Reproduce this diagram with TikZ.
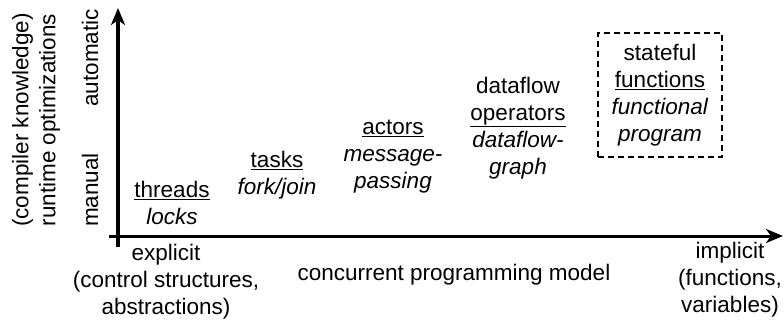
\documentclass[tikz,border=0pt]{standalone}
\usepackage{fontspec}
\setmainfont{Liberation Sans}
\usetikzlibrary{arrows, arrows.meta, shapes}

\begin{document}
\begin{tikzpicture}[x=1pt, y=1pt, font=\fontsize{22.5}{27}\selectfont,
  every node/.style={align=center, inner sep=0pt},
  axis/.style={line width=3pt, -{Stealth[length=17pt, width=14pt, inset=5pt]}},
  model/.style={align=center}]
\useasboundingbox (-118,-86) rectangle (666,236);
% axes
\coordinate (xstart) at (-9,0);
\coordinate (xend)   at (665,0);
\coordinate (ystart) at (0,-11);
\coordinate (yend)   at (0,228);
\draw[axis] (xstart) -- (xend);
\draw[axis] (ystart) -- (yend);
% axis labels
\node (explicit) at (48,-46) {explicit\\(control structures,\\abstractions)};
\node (implicit) at (612,-44) {implicit\\(functions,\\variables)};
\node (xlabel)   at (336,-39) {concurrent programming model};
\node[rotate=90] (manual)    at (-28,46)  {manual};
\node[rotate=90] (automatic) at (-28,178) {automatic};
\node[rotate=90] (ylabel)    at (-82,116) {(compiler knowledge)\\runtime optimizations};
% models
\node[model] (threads)  at (54,33)  {\underline{threads}\\\textit{locks}};
\node[model] (tasks)    at (159,61) {\underline{tasks}\\\textit{fork/join}};
\node[model] (actors)   at (275,79) {\underline{actors}\\\textit{message-}\\\textit{passing}};
\node[model] (dataflow) at (400,108) {dataflow\\\underline{operators}\\\textit{dataflow-}\\\textit{graph}};
\node[model, draw, dashed, line width=1.4pt, dash pattern=on 6pt off 4pt,
  minimum width=124pt, minimum height=124pt] (stateful) at (542,141)
  {stateful\\\underline{functions}\\\textit{functional}\\\textit{program}};
\end{tikzpicture}
\end{document}
